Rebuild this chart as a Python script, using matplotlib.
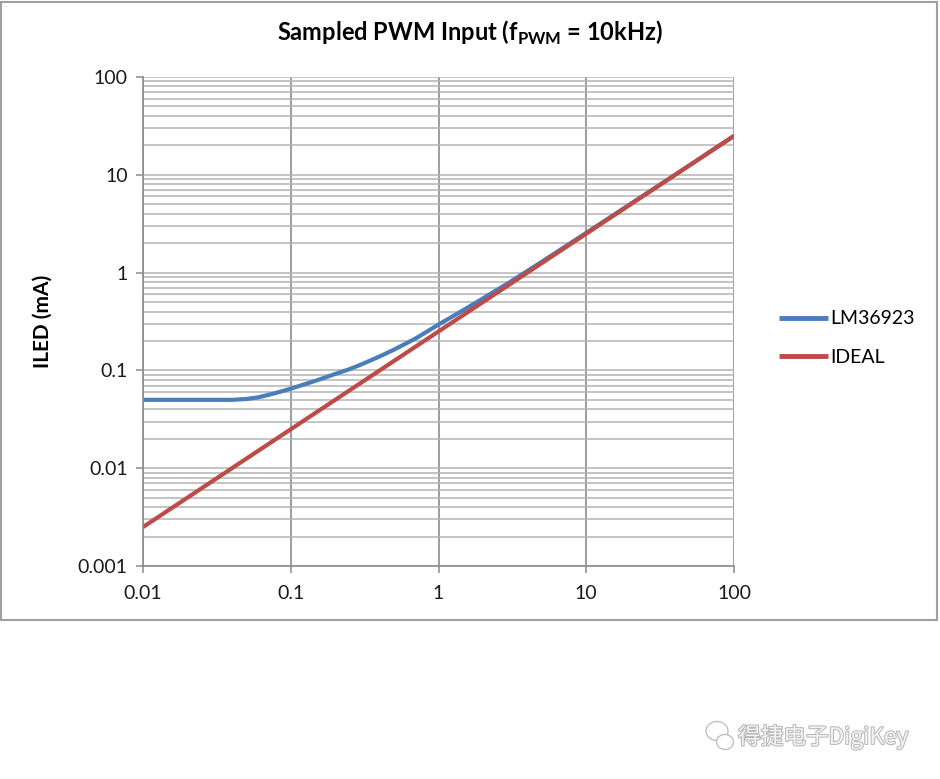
import numpy as np
import matplotlib
matplotlib.use("Agg")
import matplotlib.pyplot as plt
import matplotlib.patheffects as pe
from matplotlib.patches import Rectangle, Ellipse
from matplotlib.ticker import LogLocator, FixedLocator, NullFormatter

plt.rcParams['font.family'] = ['Lato', 'DejaVu Sans']
plt.rcParams['mathtext.fontset'] = 'custom'
plt.rcParams['mathtext.rm'] = 'Lato:bold'
plt.rcParams['mathtext.bf'] = 'Lato:bold'

# datos
duty = [0.01, 0.02, 0.03, 0.04, 0.05, 0.06, 0.07, 0.08, 0.1, 0.12, 0.15,
        0.2, 0.25, 0.3, 0.4, 0.5, 0.7, 1, 1.5, 2, 3, 5, 10, 20, 50, 100]
iled_lm = [0.050, 0.050, 0.050, 0.050, 0.051, 0.053, 0.056, 0.059, 0.065,
           0.071, 0.079, 0.092, 0.103, 0.115, 0.139, 0.163, 0.212, 0.294,
           0.42, 0.545, 0.79, 1.29, 2.55, 5.05, 12.5, 25.0]
duty_ideal = [0.01, 100]
iled_ideal = [0.0025, 25.0]

xticks = [0.01, 0.1, 1, 10, 100]
xlabels = ['0.01', '0.1', '1', '10', '100']
yticks = [0.001, 0.01, 0.1, 1, 10, 100]
ylabels = ['0.001', '0.01', '0.1', '1', '10', '100']

AZUL = '#4a7ebb'
ROJO = '#be4b48'

fig = plt.figure(figsize=(9.4, 7.79), dpi=100)

# marco exterior
fig.patches.append(Rectangle((1 / 940, 1 - 620 / 779), 936 / 940, 618 / 779,
                             transform=fig.transFigure, fill=False,
                             edgecolor='#a0a0a0', linewidth=1.5))

ax = fig.add_axes([143 / 940, 1 - 566 / 779, 591 / 940, 489 / 779])
ax.set_xscale('log')
ax.set_yscale('log')
ax.set_xlim(0.01, 100)
ax.set_ylim(0.001, 100)

ax.xaxis.set_major_locator(FixedLocator(xticks))
ax.set_xticklabels(xlabels)
ax.xaxis.set_minor_locator(FixedLocator([]))
ax.yaxis.set_major_locator(FixedLocator(yticks))
ax.set_yticklabels(ylabels)
ax.yaxis.set_minor_locator(LogLocator(base=10, subs=np.arange(2, 10)))
ax.yaxis.set_minor_formatter(NullFormatter())

ax.grid(True, which='major', axis='x', color='#8c8c8c', linewidth=1.2)
ax.grid(True, which='both', axis='y', color='#b4b4b4', linewidth=1.1)
ax.set_axisbelow(True)

for s in ['top', 'right']:
    ax.spines[s].set_visible(False)
for s in ['left', 'bottom']:
    ax.spines[s].set_color('#8c8c8c')
    ax.spines[s].set_linewidth(1.2)
ax.tick_params(which='major', length=5, width=1.1, color='#8c8c8c',
               labelsize=14, labelcolor='#1a1a1a', pad=6)
ax.tick_params(axis='y', which='minor', length=0)
ax.tick_params(axis='x', pad=9)

ax.plot(duty, iled_lm, color=AZUL, linewidth=3, label='LM36923',
        solid_capstyle='butt')
ax.plot(duty_ideal, iled_ideal, color=ROJO, linewidth=3, label='IDEAL',
        solid_capstyle='butt')

leg = ax.legend(loc='center left', bbox_to_anchor=(1.06, 0.466), frameon=False,
                fontsize=14, handlelength=2.5, handletextpad=0.15,
                labelspacing=1.1, borderpad=0)
for l in leg.get_lines():
    l.set_linewidth(3.5)

ax.set_ylabel('ILED (mA)', fontsize=15, fontweight='bold', labelpad=18)

fig.text(470 / 940, 1 - 33 / 779,
         r'Sampled PWM Input (f$_{\mathrm{PWM}}$ = 10kHz)',
         ha='center', va='center', fontsize=17, fontweight='bold')

# marca de agua
fig.text(738 / 940, 1 - 737 / 779, '得捷电子DigiKey', ha='left', va='center',
         fontsize=16.3, color='#f4f4f4',
         family=['Noto Sans CJK SC', 'DejaVu Sans'],
         path_effects=[pe.withStroke(linewidth=1.5, foreground='#b8b8b8')])
fig.patches.append(Ellipse((717 / 940, 1 - 731 / 779), 22 / 940, 19 / 779,
                           transform=fig.transFigure, facecolor='white',
                           edgecolor='#c0c0c0', linewidth=1))
fig.patches.append(Ellipse((725 / 940, 1 - 742 / 779), 17 / 940, 15 / 779,
                           transform=fig.transFigure, facecolor='white',
                           edgecolor='#c0c0c0', linewidth=1))

fig.savefig('out.png', dpi=100)
